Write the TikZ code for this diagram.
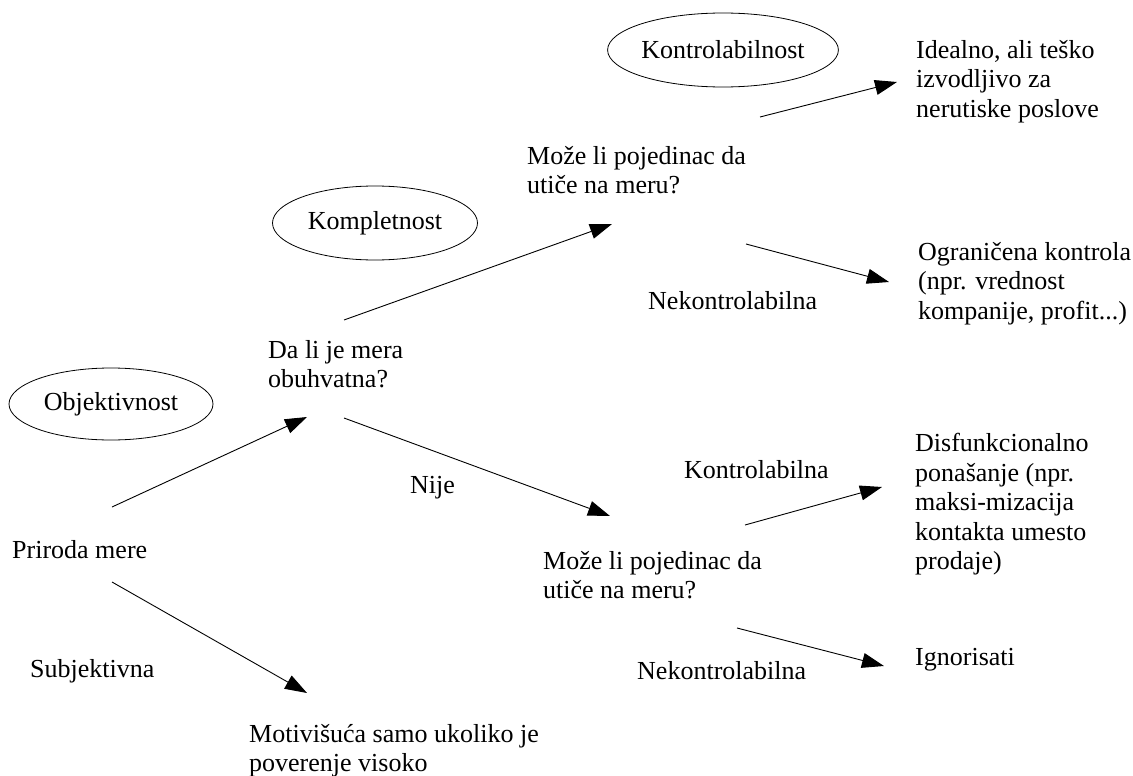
\documentclass[tikz,border=0pt]{standalone}
\usepackage{fontspec}
\setmainfont{Liberation Serif}
\usetikzlibrary{arrows.meta,shapes.geometric}
\tikzset{
  txt/.style={font=\fontsize{26}{29.5}\selectfont},
  lbl/.style={txt, anchor=north west, inner sep=0pt, align=left},
  oval/.style={txt, draw, ellipse, inner sep=0pt, line width=0.8pt},
  arr/.style={line width=0.9pt, -{Triangle[length=22pt,width=15pt]}}
}
\begin{document}
\begin{tikzpicture}[x=1pt,y=-1pt]
\useasboundingbox (0,0) rectangle (1133,776);

% criteria ovals
\node[oval, minimum width=204pt, minimum height=72pt] (objk) at (111,404) {Objektivnost};
\node[oval, minimum width=205pt, minimum height=74pt] (komp) at (375,223) {Kompletnost};
\node[oval, minimum width=204pt, minimum height=74pt] (kont) at (723,50) {Kontrolabilnost};

% decision texts
\node[lbl] (pm) at (12,540) {Priroda mere};
\node[lbl] (dl) at (268,340) {Da li je mera\\obuhvatna?};
\node[lbl] (mt) at (527,146) {Može li pojedinac da\\utiče na meru?};
\node[lbl] (mb) at (543,551) {Može li pojedinac da\\utiče na meru?};

% outcomes
\node[lbl] (mot) at (249,724) {Motivišuća samo ukoliko je\\poverenje visoko};
\node[lbl] (ide) at (916,40) {Idealno, ali teško\\izvodljivo za\\nerutiske poslove};
\node[lbl] (ogr) at (918,242) {Ograničena kontrola\\(npr. vrednost\\kompanije, profit...)};
\node[lbl] (dis) at (915,433) {Disfunkcionalno\\ponašanje (npr.\\maksi-mizacija\\kontakta umesto\\prodaje)};
\node[lbl] (ign) at (915,648) {Ignorisati};

% branch labels
\node[lbl] (sub) at (30,659) {Subjektivna};
\node[lbl] (nij) at (410,476) {Nije};
\node[lbl] (nkt) at (648,291) {Nekontrolabilna};
\node[lbl] (ktb) at (684,460) {Kontrolabilna};
\node[lbl] (nkb) at (637,661) {Nekontrolabilna};

% connector ends
\coordinate (pm1) at (112,507);  \coordinate (dl0) at (307,417);
\coordinate (pm2) at (112,582);  \coordinate (mot0) at (307,693);
\coordinate (dl1) at (344,320);  \coordinate (mt0) at (612,224);
\coordinate (dl2) at (344,418);  \coordinate (mb0) at (610,516);
\coordinate (mt1) at (760,117);  \coordinate (ide0) at (897,82);
\coordinate (mt2) at (746,244);  \coordinate (ogr0) at (889,282);
\coordinate (mb1) at (745,525);  \coordinate (dis0) at (882,487);
\coordinate (mb2) at (737,628);  \coordinate (ign0) at (884,666);

\draw[arr] (pm1) -- (dl0);
\draw[arr] (pm2) -- (mot0);
\draw[arr] (dl1) -- (mt0);
\draw[arr] (dl2) -- (mb0);
\draw[arr] (mt1) -- (ide0);
\draw[arr] (mt2) -- (ogr0);
\draw[arr] (mb1) -- (dis0);
\draw[arr] (mb2) -- (ign0);
\end{tikzpicture}
\end{document}
